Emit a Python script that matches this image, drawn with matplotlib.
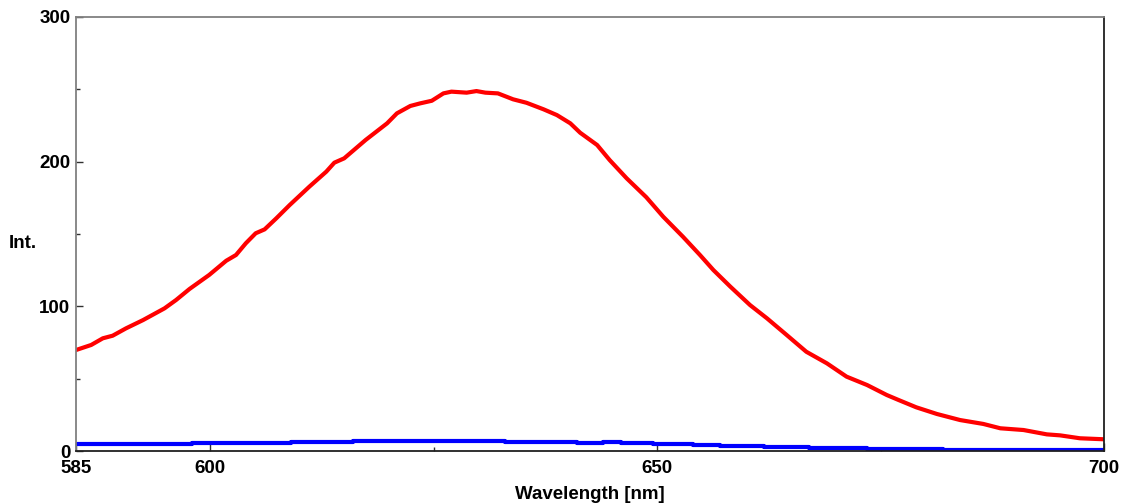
import matplotlib
matplotlib.use('Agg')
import matplotlib.pyplot as plt
from matplotlib.ticker import FixedLocator, MultipleLocator

# emission spectrum (red)
red_wl = [585, 586.7, 588, 589.1, 590.6, 592.5, 594.9, 596.2, 597.7, 599.9,
          601.8, 602.9, 604, 605.1, 606.1, 607.4, 608.9, 611.1, 613, 613.9,
          615, 617.4, 619.8, 620.9, 622.4, 623.5, 624.8, 626.1, 627, 628.7,
          629.8, 630.8, 632.2, 633.9, 635.4, 637.3, 638.8, 640.3, 641.4, 643.3,
          644.7, 646.6, 648.8, 650.7, 652.9, 654.8, 656.3, 658.2, 660.4, 662.3,
          664.5, 666.7, 669, 671.2, 673.5, 675.7, 677, 679, 681.3, 683.9,
          686.5, 688.4, 691, 693.6, 695.1, 697.3, 700]
red_int = [69.8, 73.3, 77.9, 79.7, 84.8, 90.5, 98.6, 104.4, 112, 121.7,
           131.5, 135.5, 143.6, 150.5, 153.2, 160.8, 170, 182.7, 193.1, 199.3,
           202.3, 215, 226.5, 233.4, 238.5, 240.3, 242.1, 247.2, 248.4, 247.7,
           248.8, 247.7, 247.2, 243.1, 240.7, 236.2, 232.2, 226.5, 220, 211.5,
           201.1, 188.5, 175.4, 161.9, 148.1, 135.5, 125.1, 113.6, 100.9, 91.7,
           80.2, 68.6, 60.6, 51.4, 45.6, 38.7, 35.3, 30.2, 25.6, 21.4,
           18.7, 15.7, 14.5, 11.5, 10.8, 8.8, 8.1]

# blank (blue)
blue_wl = [585, 598, 602, 609, 616, 633, 637, 641, 644, 646, 649.5, 654, 657,
           662, 667, 673.5, 682, 700]
blue_int = [4.8, 5.3, 5.8, 6.5, 7.0, 6.5, 5.9, 5.6, 6.0, 5.6, 5.0, 4.3, 3.5,
            2.8, 2.0, 1.2, 0.7, 0.7]

x_ticks = [585, 600, 650, 700]
x_minor = [625, 675]
y_ticks = [0, 100, 200, 300]

plt.rcParams['font.family'] = ['Liberation Sans', 'DejaVu Sans']
plt.rcParams['font.weight'] = 'bold'

fig = plt.figure(figsize=(11.24, 5.04), dpi=100)
ax = fig.add_axes([76 / 1124, 53 / 504, 1028 / 1124, 434 / 504])

ax.plot(red_wl, red_int, color='#ff0000', lw=3, solid_joinstyle='round')
ax.plot(blue_wl, blue_int, color='#0000ff', lw=3, drawstyle='steps-post')

ax.set_xlim(585, 700)
ax.set_ylim(0, 300)

ax.xaxis.set_major_locator(FixedLocator(x_ticks))
ax.xaxis.set_minor_locator(FixedLocator(x_minor))
ax.yaxis.set_major_locator(FixedLocator(y_ticks))
ax.yaxis.set_minor_locator(MultipleLocator(50))

ax.tick_params(axis='both', which='major', direction='in', labelsize=13.5,
               color='#303030', width=1)
ax.tick_params(axis='x', which='major', length=6, pad=6.5)
ax.tick_params(axis='y', which='major', length=5, pad=4)
ax.tick_params(axis='both', which='minor', direction='in', length=3,
               color='#303030', width=1)
for lbl in ax.get_xticklabels() + ax.get_yticklabels():
    lbl.set_fontweight('bold')

for side in ['left', 'top']:
    ax.spines[side].set_color('#808080')
for side in ['right', 'bottom']:
    ax.spines[side].set_color('#202020')
for sp in ax.spines.values():
    sp.set_linewidth(1.3)

ax.set_xlabel('Wavelength [nm]', fontsize=13.5, fontweight='bold', labelpad=6.5)
ax.set_ylabel('Int.', fontsize=13.5, fontweight='bold', rotation=0,
              ha='center', va='center')
ax.yaxis.set_label_coords(-0.052, 0.477)

fig.savefig('out.png', dpi=100)
